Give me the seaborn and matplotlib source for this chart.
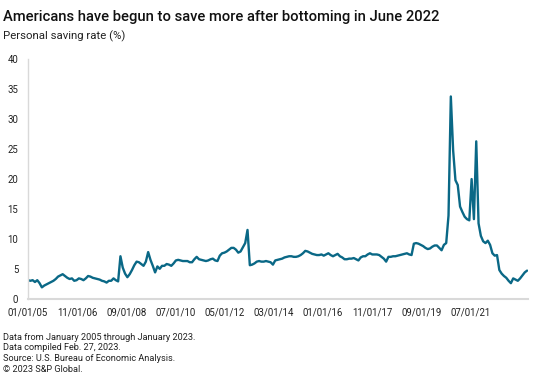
import numpy as np
import pandas as pd
import matplotlib
matplotlib.use("Agg")
import matplotlib.pyplot as plt
import seaborn as sns

# Personal saving rate (%), monthly, Jan 2005 - Jan 2023
rate_2005 = [3.1, 3.0, 3.1, 2.8, 3.1, 2.6, 1.9, 2.2, 2.4, 2.6, 2.8, 3.0]
rate_2006 = [3.3, 3.7, 3.9, 4.1, 3.8, 3.5, 3.3, 3.4, 3.0, 3.1, 3.4, 3.3]
rate_2007 = [3.1, 3.4, 3.8, 3.7, 3.5, 3.4, 3.3, 3.2, 3.0, 2.9, 2.7, 3.0]
rate_2008 = [3.0, 3.4, 3.1, 2.9, 7.1, 5.2, 4.2, 3.6, 4.1, 4.8, 5.6, 6.2]
rate_2009 = [6.1, 5.8, 5.5, 6.2, 7.8, 6.5, 5.5, 4.4, 5.4, 5.0, 5.5, 5.5]
rate_2010 = [5.8, 5.7, 5.5, 5.9, 6.4, 6.5, 6.4, 6.3, 6.3, 6.3, 6.1, 6.1]
rate_2011 = [6.6, 7.0, 6.6, 6.5, 6.4, 6.3, 6.4, 6.6, 6.7, 6.4, 6.3, 7.2]
rate_2012 = [7.6, 7.7, 7.9, 8.2, 8.5, 8.5, 8.2, 7.7, 7.9, 8.6, 9.3, 11.5]
rate_2013 = [5.6, 5.7, 5.9, 6.2, 6.3, 6.2, 6.2, 6.3, 6.2, 6.1, 5.7, 6.4]
rate_2014 = [6.5, 6.6, 6.7, 6.9, 7.0, 7.1, 7.1, 7.0, 7.0, 7.1, 7.3, 7.6]
rate_2015 = [8.0, 7.9, 7.7, 7.5, 7.4, 7.3, 7.3, 7.4, 7.2, 7.4, 7.6, 7.3]
rate_2016 = [7.1, 7.3, 7.5, 7.1, 6.9, 6.6, 6.6, 6.7, 6.7, 6.8, 6.6, 6.4]
rate_2017 = [6.9, 7.1, 7.1, 7.4, 7.6, 7.4, 7.4, 7.4, 7.3, 7.0, 6.7, 6.2]
rate_2018 = [7.0, 7.0, 7.1, 7.1, 7.2, 7.3, 7.4, 7.5, 7.6, 7.4, 7.3, 9.2]
rate_2019 = [9.3, 9.2, 9.0, 8.8, 8.5, 8.3, 8.4, 8.7, 8.9, 8.9, 8.5, 8.1]
rate_2020 = [9.0, 9.3, 13.9, 33.8, 24.8, 19.8, 19.0, 15.4, 14.5, 13.7, 13.3, 13.1]
rate_2021 = [20.0, 13.3, 26.3, 12.6, 10.5, 9.6, 9.3, 9.7, 9.0, 7.6, 7.2, 7.3]
rate_2022 = [4.8, 4.2, 3.8, 3.5, 3.0, 2.6, 3.4, 3.2, 3.0, 3.4, 3.9, 4.4]
rate_2023 = [4.7]

tick_labels = ["01/01/05", "11/01/06", "09/01/08", "07/01/10", "05/01/12",
               "03/01/14", "01/01/16", "11/01/17", "09/01/19", "07/01/21"]

rates = (rate_2005 + rate_2006 + rate_2007 + rate_2008 + rate_2009 + rate_2010
         + rate_2011 + rate_2012 + rate_2013 + rate_2014 + rate_2015 + rate_2016
         + rate_2017 + rate_2018 + rate_2019 + rate_2020 + rate_2021 + rate_2022
         + rate_2023)
df = pd.DataFrame({"month": np.arange(len(rates)), "rate": rates})

sns.set_theme(style="white")
plt.rcParams["font.family"] = ["Roboto", "DejaVu Sans"]

fig = plt.figure(figsize=(5.39, 3.83), dpi=100)
ax = fig.add_axes([0.052, 0.220, 0.928, 0.625])

sns.lineplot(data=df, x="month", y="rate", ax=ax, color="#0a6886", linewidth=1.7)

ax.set_xlim(0, len(rates) - 0.5)
ax.set_ylim(0, 40)
ax.set_yticks(range(0, 41, 5))
# labels sit a little tighter than every 22 months in the source chart
ax.set_xticks(np.arange(len(tick_labels)) * 21.27)
ax.set_xticklabels(tick_labels)
ax.set_xlabel("")
ax.set_ylabel("")
ax.tick_params(axis="both", length=0, labelsize=6.9, colors="#222222")
ax.tick_params(axis="x", pad=6)
ax.tick_params(axis="y", pad=7)

for side in ["top", "right"]:
    ax.spines[side].set_visible(False)
ax.spines["left"].set_color("#d9d9d9")
ax.spines["left"].set_linewidth(1.0)
ax.spines["bottom"].set_color("#d9d9d9")
ax.spines["bottom"].set_linewidth(1.5)

fig.text(0.006, 0.955, "Americans have begun to save more after bottoming in June 2022",
         fontsize=10.65, fontweight="medium", color="#111111", va="center")
fig.text(0.006, 0.905, "Personal saving rate (%)", fontsize=8.2, color="#222222", va="center")

notes = ["Data from January 2005 through January 2023.",
         "Data compiled Feb. 27, 2023.",
         "Source: U.S. Bureau of Economic Analysis.",
         "\u00a9 2023 S&P Global."]
for i, line in enumerate(notes):
    fig.text(0.006, 0.120 - i * 0.0285, line, fontsize=6.6, color="#222222", va="center")

fig.savefig("out.png", dpi=100)
